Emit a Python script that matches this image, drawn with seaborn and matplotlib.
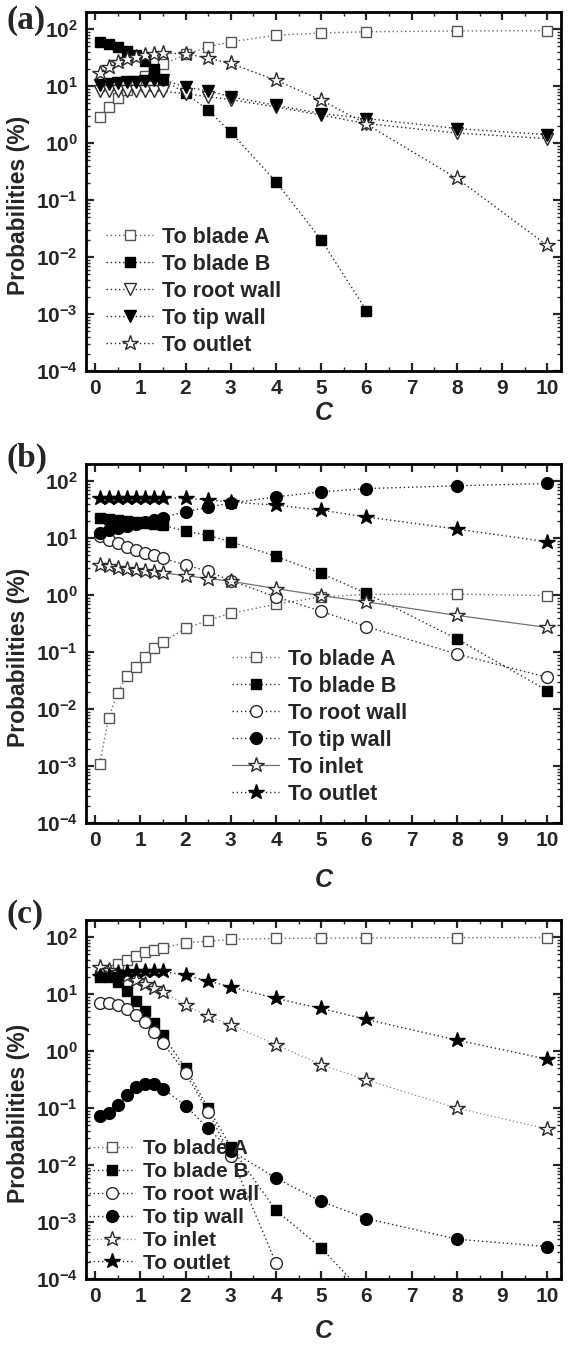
import numpy as np
import matplotlib
matplotlib.use("Agg")
import matplotlib.pyplot as plt
import seaborn as sns
from matplotlib.ticker import MultipleLocator, LogLocator, FuncFormatter, NullFormatter

# ---------------- data ----------------
C_full = [0.1, 0.3, 0.5, 0.7, 0.9, 1.1, 1.3, 1.5, 2, 2.5, 3, 4, 5, 6, 8, 10]
C_to6 = [0.1, 0.3, 0.5, 0.7, 0.9, 1.1, 1.3, 1.5, 2, 2.5, 3, 4, 5, 6]
C_to4 = [0.1, 0.3, 0.5, 0.7, 0.9, 1.1, 1.3, 1.5, 2, 2.5, 3, 4]

# panel (a)
a_blade_A = [2.9, 4.3, 6.1, 8.5, 11, 15, 18, 24, 36, 49, 60, 78, 86, 90, 93, 94]
a_blade_B = [60, 55, 48, 42, 35, 28, 20, 13, 7.5, 3.8, 1.55, 0.21, 0.02, 0.00115]
a_root = [8.2, 8.2, 8.1, 8.1, 8.1, 8.1, 8.1, 8.1, 7.4, 6.5, 5.8, 4.3, 3.1, 2.2, 1.5, 1.2]
a_tip = [10.5, 11, 11.3, 11.7, 12, 12.3, 12.6, 13, 9.6, 8.3, 6.5, 4.6, 3.3, 2.7, 1.8, 1.4]
a_outlet = [17, 22, 26, 30, 33, 35, 37, 38, 37, 31, 25, 12.7, 5.7, 2.15, 0.24, 0.016]

# panel (b)
b_blade_A = [1.1e-3, 6.9e-3, 0.0195, 0.038, 0.055, 0.083, 0.117, 0.15,
             0.26, 0.36, 0.48, 0.69, 0.93, 1.03, 1.04, 0.98]
b_blade_B = [23, 22, 21, 20, 19.5, 18.5, 17.5, 17, 13.2, 11.2, 8.6, 4.8, 2.4, 1.07, 0.17, 0.021]
b_root = [11, 9.2, 8.1, 7.1, 6.2, 5.5, 5.0, 4.4, 3.4, 2.6, 1.8, 0.93, 0.52, 0.28, 0.092, 0.036]
b_tip = [12.5, 14, 15, 16.5, 18, 19.5, 21, 23, 29, 35, 41, 53, 65, 74, 83, 91]
b_inlet = [3.4, 3.2, 3.05, 2.9, 2.8, 2.65, 2.55, 2.45, 2.2, 1.95, 1.75, 1.3, 0.98, 0.76, 0.44, 0.27]
b_outlet = [50, 50.5, 50.5, 51, 51, 51, 51, 51, 50, 47, 43, 38, 31, 23.5, 14.4, 8.6]

# panel (c)
c_blade_A = [22, 27, 34, 40, 47, 54, 60, 65, 79, 85, 91, 95, 96, 97, 98, 98.5]
c_blade_B = [20, 20, 16.5, 11.5, 7.7, 5.0, 3.1, 1.9, 0.5, 0.1, 0.021, 1.6e-3, 3.5e-4, 5e-5]
c_root = [7.1, 6.9, 6.5, 5.5, 4.3, 3.2, 2.2, 1.4, 0.41, 0.087, 0.0145, 1.9e-4]
c_tip = [0.072, 0.083, 0.115, 0.17, 0.23, 0.26, 0.26, 0.22, 0.11, 0.044, 0.018,
         5.9e-3, 2.3e-3, 1.15e-3, 5e-4, 3.7e-4]
c_inlet = [30, 27, 24, 21, 18, 15, 13, 11, 6.4, 4.1, 2.9, 1.3, 0.58, 0.31, 0.1, 0.043]
c_outlet = [21, 22, 23, 24, 25, 25.5, 25.5, 25, 21.5, 17, 13.4, 8.4, 5.6, 3.6, 1.56, 0.72]

x_ticks = list(range(0, 11))

# ---------------- style ----------------
sns.set_theme(style="ticks")
plt.rcParams["font.family"] = ["Liberation Sans", "DejaVu Sans"]
plt.rcParams["font.weight"] = "bold"
plt.rcParams["mathtext.fontset"] = "custom"
plt.rcParams["mathtext.rm"] = "Liberation Sans:bold"
plt.rcParams["mathtext.bf"] = "Liberation Sans:bold"
plt.rcParams["mathtext.it"] = "Liberation Sans:italic:bold"

DOT = (0, (1, 2))
DARK = "#2a2a2a"
GREY = "#6a6a6a"

W, H = 568, 1345
fig = plt.figure(figsize=(W / 100, H / 100), dpi=100)


def make_axes(top_px, bottom_px, left_px=86, right_px=561):
    return fig.add_axes([left_px / W, 1 - bottom_px / H,
                         (right_px - left_px) / W, (bottom_px - top_px) / H])


def series(ax, x, y, label, marker, face, edge, ms, ls=DOT, lc=DARK, lw=1.0):
    sns.lineplot(x=x, y=y, ax=ax, label=label, marker=marker, markersize=ms,
                 markerfacecolor=face, markeredgecolor=edge, markeredgewidth=1.0,
                 color=lc, linestyle=ls, linewidth=lw, estimator=None, sort=False)


def style_axes(ax, ylab_y, xlab_y):
    ax.set_yscale("log")
    ax.set_xlim(-0.2, 10.3)
    ax.set_ylim(1e-4, 200)
    ax.set_xticks(x_ticks)
    ax.xaxis.set_minor_locator(MultipleLocator(0.5))
    ax.yaxis.set_major_locator(LogLocator(base=10, numticks=20))
    ax.yaxis.set_minor_locator(LogLocator(base=10, subs=np.arange(2, 10), numticks=20))
    ax.yaxis.set_minor_formatter(NullFormatter())
    ax.yaxis.set_major_formatter(
        FuncFormatter(lambda v, p: r"$\mathbf{10^{%d}}$" % int(round(np.log10(v)))))
    ax.xaxis.set_major_formatter(FuncFormatter(lambda v, p: "%d" % v))
    ax.tick_params(which="both", direction="in", top=True, right=True, pad=6)
    ax.tick_params(axis="x", which="major", labelsize=15)
    ax.tick_params(axis="y", which="major", labelsize=15)
    ax.tick_params(which="major", length=6, width=1.6)
    ax.tick_params(which="minor", length=3, width=1.0)
    for lab in ax.get_xticklabels() + ax.get_yticklabels():
        lab.set_fontweight("bold")
    for s in ax.spines.values():
        s.set_linewidth(2.0)
        s.set_color("black")
    ax.set_xlabel("C", fontsize=18, fontweight="bold", fontstyle="italic")
    ax.xaxis.set_label_coords(0.5, xlab_y)
    ax.xaxis.label.set_va("center")
    ax.set_ylabel("Probabilities (%)", fontsize=16.5, fontweight="bold")
    ax.yaxis.set_label_coords(-0.143, ylab_y)
    ax.yaxis.label.set_va("center")


def add_legend(ax, anchor, size, spacing):
    leg = ax.legend(loc="upper left", bbox_to_anchor=anchor, frameon=False,
                    borderpad=0, borderaxespad=0, handlelength=2.2,
                    handletextpad=0.4, labelspacing=spacing,
                    prop={"weight": "bold", "size": size, "family": "Liberation Sans"})
    return leg


# ---------------- panel (a) ----------------
ax_a = make_axes(12, 371)
series(ax_a, C_full, a_blade_A, "To blade A", "s", "white", "#555555", 7.5, lc=GREY)
series(ax_a, C_to6, a_blade_B, "To blade B", "s", "black", "black", 7.5)
series(ax_a, C_full, a_root, "To root wall", "v", "white", DARK, 9)
series(ax_a, C_full, a_tip, "To tip wall", "v", "black", "black", 9)
series(ax_a, C_full, a_outlet, "To outlet", "*", "white", DARK, 11.5)
style_axes(ax_a, 0.46, -0.117)
add_legend(ax_a, (0.042, 0.402), 15.5, 0.28)

# ---------------- panel (b) ----------------
ax_b = make_axes(464, 823)
series(ax_b, C_full, b_blade_A, "To blade A", "s", "white", "#555555", 7.5, lc=GREY)
series(ax_b, C_full, b_blade_B, "To blade B", "s", "black", "black", 7.5)
series(ax_b, C_full, b_root, "To root wall", "o", "white", DARK, 8.5)
series(ax_b, C_full, b_tip, "To tip wall", "o", "black", "black", 8.5)
series(ax_b, C_full, b_inlet, "To inlet", "*", "white", DARK, 11.5, ls="-", lc="#707070", lw=0.9)
series(ax_b, C_full, b_outlet, "To outlet", "*", "black", "black", 11.5)
style_axes(ax_b, 0.46, -0.159)
add_legend(ax_b, (0.307, 0.486), 15.5, 0.28)

# ---------------- panel (c) ----------------
ax_c = make_axes(920, 1279)
series(ax_c, C_full, c_blade_A, "To blade A", "s", "white", "#555555", 7.5, lc=GREY)
series(ax_c, C_to6, c_blade_B, "To blade B", "s", "black", "black", 7.5)
series(ax_c, C_to4, c_root, "To root wall", "o", "white", DARK, 8.5)
series(ax_c, C_full, c_tip, "To tip wall", "o", "black", "black", 8.5)
series(ax_c, C_full, c_inlet, "To inlet", "*", "white", DARK, 11.5, lc="#8a8a8a", lw=0.9)
series(ax_c, C_full, c_outlet, "To outlet", "*", "black", "black", 11.5)
style_axes(ax_c, 0.46, -0.146)
add_legend(ax_c, (0.006, 0.390), 15, 0.19)

# ---------------- panel tags ----------------
for tag, ypx in (("(a)", 20), ("(b)", 458), ("(c)", 915)):
    fig.text(6 / W, 1 - ypx / H, tag, family="Liberation Serif", fontweight="bold",
             fontsize=24, va="center", ha="left")

fig.savefig("out.png", dpi=100)
